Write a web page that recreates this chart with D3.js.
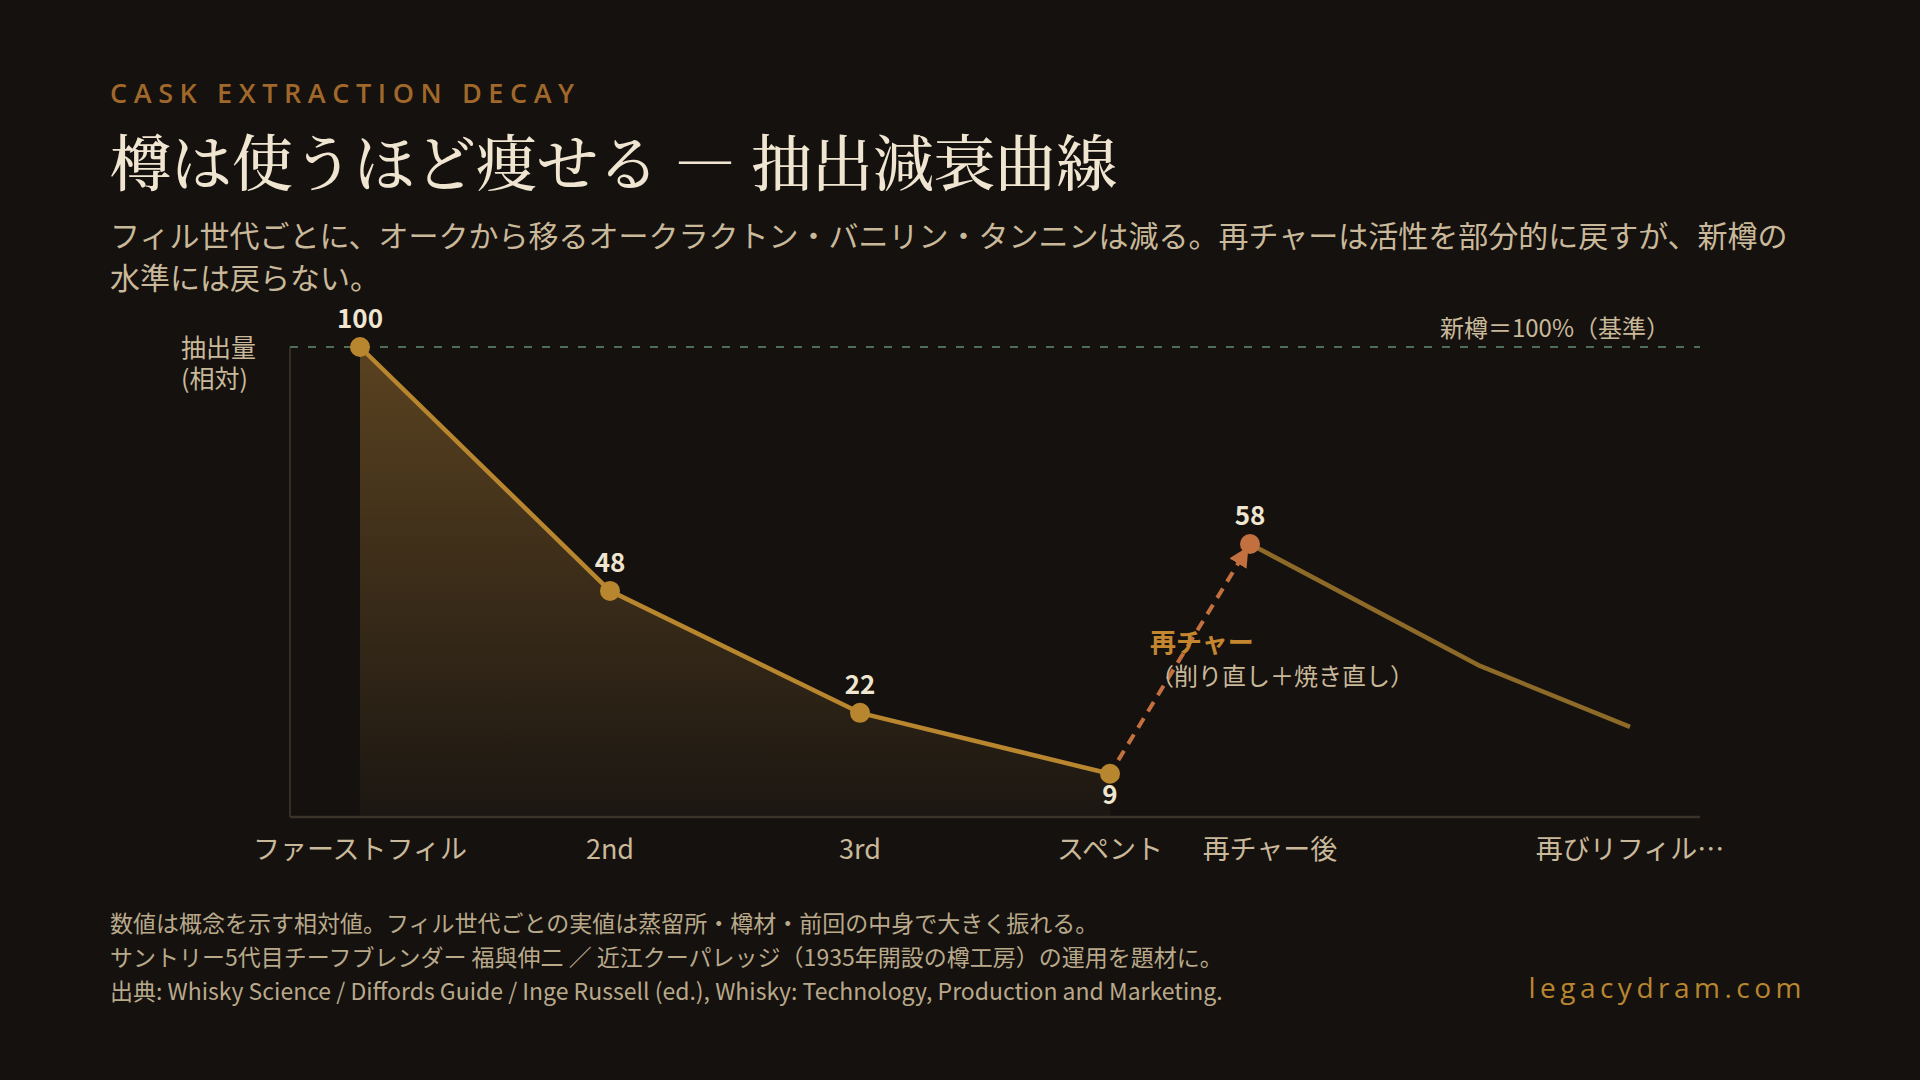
<!DOCTYPE html>
<html lang="ja">
<head>
<meta charset="utf-8">
<script src="https://cdn.jsdelivr.net/npm/d3@7"></script>
<style>
  html, body { margin: 0; padding: 0; background: #15110e; }
  svg { display: block; }
</style>
</head>
<body>
<svg id="chart" width="1920" height="1080"></svg>
<script>
// ==================== DATA ====================
const fillPos = [0, 1, 2, 3];
const fillValues = [100, 48, 22, 9];
const recharPos = [3.56, 4.48, 5.08];
const recharValues = [58, 32, 19];
const tickLabels = ['ファーストフィル', '2nd', '3rd', 'スペント', '再チャー後', '再びリフィル…'];
const tickPos = [0, 1, 2, 3, 3.64, 5.08];
const baselineValue = 100;

const descLines = [
  'フィル世代ごとに、オークから移るオークラクトン・バニリン・タンニンは減る。再チャーは活性を部分的に戻すが、新樽の',
  '水準には戻らない。'
];
const yLabelLines = ['抽出量', '(相対)'];
const footLines = [
  '数値は概念を示す相対値。フィル世代ごとの実値は蒸留所・樽材・前回の中身で大きく振れる。',
  'サントリー5代目チーフブレンダー 福與伸二 ／ 近江クーパレッジ（1935年開設の樽工房）の運用を題材に。',
  '出典: Whisky Science / Diffords Guide / Inge Russell (ed.), Whisky: Technology, Production and Marketing.'
];

// ==================== RENDER ====================
const svg = d3.select('#chart');
const sans = '"Noto Sans CJK JP", "Noto Sans", sans-serif';
const serif = '"Noto Serif CJK JP", "Noto Serif JP", "Noto Sans CJK JP", serif';

const gold = '#b8862e';
const copper = '#c2703f';
const cream = '#efe5d0';
const beige = '#c9b99a';

svg.append('rect').attr('width', 1920).attr('height', 1080).attr('fill', '#15110e');

// header
svg.append('text')
  .attr('x', 110).attr('y', 103)
  .attr('font-family', '"Open Sans", "Noto Sans", sans-serif')
  .attr('font-weight', 600)
  .attr('font-size', '27px')
  .style('letter-spacing', '6.6px')
  .attr('fill', '#a0682a')
  .text('CASK EXTRACTION DECAY');

svg.append('text')
  .attr('x', 110).attr('y', 186)
  .attr('font-family', serif)
  .attr('font-weight', 500)
  .attr('font-size', '61px')
  .attr('fill', cream)
  .text('樽は使うほど痩せる — 抽出減衰曲線');

svg.append('g')
  .selectAll('text')
  .data(descLines)
  .join('text')
  .attr('x', 110)
  .attr('y', (d, i) => 247 + i * 42)
  .attr('font-family', sans)
  .attr('font-size', '30px')
  .attr('fill', beige)
  .text((d) => d);

// scales
const x = d3.scaleLinear().domain([-0.28, 5.36]).range([290, 1700]);
const y = d3.scaleLinear().domain([0, 100]).range([816, 347]);

const defs = svg.append('defs');
const grad = defs.append('linearGradient')
  .attr('id', 'areaGrad')
  .attr('x1', 0).attr('y1', 0).attr('x2', 0).attr('y2', 1);
grad.append('stop').attr('offset', '0%').attr('stop-color', '#5a4220');
grad.append('stop').attr('offset', '100%').attr('stop-color', '#1c1712');

defs.append('marker')
  .attr('id', 'arrowHead')
  .attr('viewBox', '0 0 10 10')
  .attr('refX', 8).attr('refY', 5)
  .attr('markerWidth', 5).attr('markerHeight', 5)
  .attr('markerUnits', 'strokeWidth')
  .attr('orient', 'auto')
  .append('path')
  .attr('d', 'M0,0 L10,5 L0,10 Z')
  .attr('fill', copper);

const fillData = fillPos.map((p, i) => ({ p, v: fillValues[i] }));
const recharData = recharPos.map((p, i) => ({ p, v: recharValues[i] }));

// area under first-fill decay
svg.append('path')
  .datum(fillData)
  .attr('d', d3.area().x((d) => x(d.p)).y0(y(0)).y1((d) => y(d.v)))
  .attr('fill', 'url(#areaGrad)');

// axes
svg.append('line')
  .attr('x1', x(-0.28)).attr('x2', x(-0.28))
  .attr('y1', y(100)).attr('y2', y(0) + 1)
  .attr('stroke', '#352e26').attr('stroke-width', 2);
svg.append('line')
  .attr('x1', x(-0.28)).attr('x2', x(5.36))
  .attr('y1', y(0) + 1).attr('y2', y(0) + 1)
  .attr('stroke', '#3b3229').attr('stroke-width', 2.5);

// reference line (new cask)
svg.append('line')
  .attr('x1', x(-0.28)).attr('x2', x(5.36))
  .attr('y1', y(baselineValue)).attr('y2', y(baselineValue))
  .attr('stroke', '#4f6e57').attr('stroke-width', 1.8)
  .attr('stroke-dasharray', '8,10');
svg.append('text')
  .attr('x', 1670).attr('y', y(baselineValue) - 10)
  .attr('text-anchor', 'end')
  .attr('font-family', sans)
  .attr('font-size', '24px')
  .attr('fill', beige)
  .text('新樽＝100%（基準）');

// y label (two lines in one text)
svg.append('text')
  .attr('font-family', sans)
  .attr('font-size', '25px')
  .attr('fill', beige)
  .selectAll('tspan')
  .data(yLabelLines)
  .join('tspan')
  .attr('x', 181)
  .attr('y', (d, i) => 357 + i * 31)
  .text((d) => d);

// lines
const line = d3.line().x((d) => x(d.p)).y((d) => y(d.v));
svg.append('path')
  .datum(fillData)
  .attr('d', line)
  .attr('fill', 'none')
  .attr('stroke', gold)
  .attr('stroke-width', 4.5)
  .attr('stroke-linejoin', 'round');

svg.append('path')
  .datum(recharData)
  .attr('d', line)
  .attr('fill', 'none')
  .attr('stroke', '#8e6a29')
  .attr('stroke-width', 4.5)
  .attr('stroke-linejoin', 'round');

// rechar dashed arrow: from spent to rechar point
const last = fillData[fillData.length - 1];
const peak = recharData[0];
const ax1 = x(last.p), ay1 = y(last.v);
const ax2 = x(peak.p), ay2 = y(peak.v);
const len = Math.hypot(ax2 - ax1, ay2 - ay1);
const ux = (ax2 - ax1) / len, uy = (ay2 - ay1) / len;
svg.append('line')
  .attr('x1', ax1 + ux * 16).attr('y1', ay1 + uy * 16)
  .attr('x2', ax2 - ux * 7).attr('y2', ay2 - uy * 7)
  .attr('stroke', copper)
  .attr('stroke-width', 4)
  .attr('stroke-dasharray', '11,8')
  .attr('marker-end', 'url(#arrowHead)');

// markers
svg.append('g')
  .selectAll('circle')
  .data(fillData)
  .join('circle')
  .attr('cx', (d) => x(d.p))
  .attr('cy', (d) => y(d.v))
  .attr('r', 10)
  .attr('fill', gold);

svg.append('circle')
  .attr('cx', x(peak.p)).attr('cy', y(peak.v))
  .attr('r', 10)
  .attr('fill', copper);

// value labels
const labelData = fillData.concat([peak]);
svg.append('g')
  .selectAll('text')
  .data(labelData)
  .join('text')
  .attr('x', (d) => x(d.p))
  .attr('y', (d) => d.v < 15 ? y(d.v) + 30 : y(d.v) - 19)
  .attr('text-anchor', 'middle')
  .attr('font-family', sans)
  .attr('font-weight', 700)
  .attr('font-size', '26px')
  .attr('fill', cream)
  .text((d) => d.v);

// annotation
svg.append('text')
  .attr('x', 1150).attr('y', 652)
  .attr('font-family', sans)
  .attr('font-weight', 700)
  .attr('font-size', '26px')
  .attr('fill', '#c4862e')
  .text('再チャー');
svg.append('text')
  .attr('x', 1150).attr('y', 685)
  .attr('font-family', sans)
  .attr('font-size', '24px')
  .attr('fill', beige)
  .text('（削り直し＋焼き直し）');

// x tick labels
svg.append('g')
  .selectAll('text')
  .data(tickLabels)
  .join('text')
  .attr('x', (d, i) => x(tickPos[i]))
  .attr('y', 859)
  .attr('text-anchor', 'middle')
  .attr('font-family', sans)
  .attr('font-size', '27px')
  .attr('fill', beige)
  .text((d) => d);

// footer
svg.append('g')
  .selectAll('text')
  .data(footLines)
  .join('text')
  .attr('x', 110)
  .attr('y', (d, i) => 932 + i * 34)
  .attr('font-family', sans)
  .attr('font-size', '23px')
  .attr('fill', '#b9a98b')
  .text((d) => d);

svg.append('text')
  .attr('x', 1806).attr('y', 998)
  .attr('text-anchor', 'end')
  .attr('font-family', '"Open Sans", "Noto Sans", sans-serif')
  .attr('font-size', '28px')
  .style('letter-spacing', '4.5px')
  .attr('fill', gold)
  .text('legacydram.com');
</script>
</body>
</html>
